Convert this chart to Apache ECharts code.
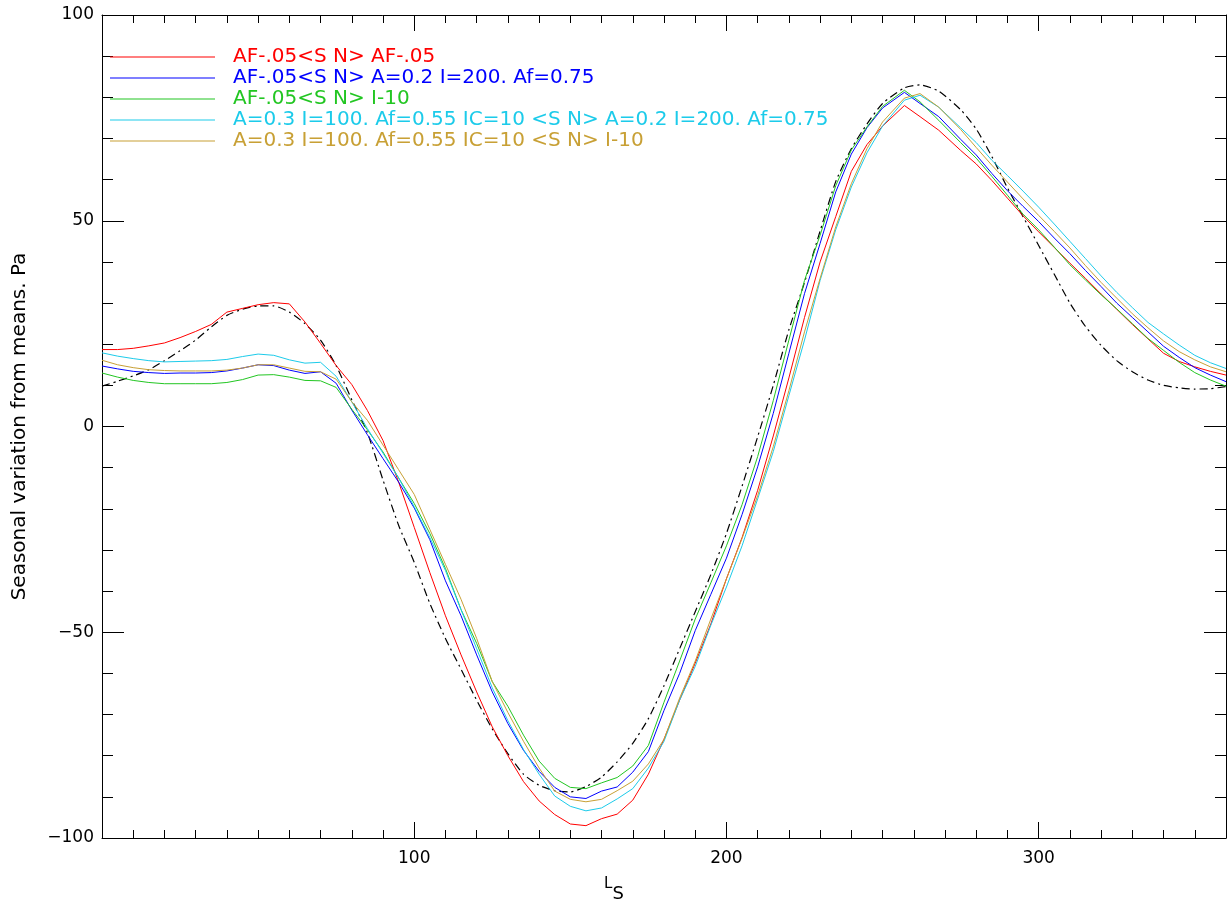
<!DOCTYPE html>
<html>
<head>
<meta charset="utf-8">
<title>Seasonal variation from means</title>
<script src="https://cdn.jsdelivr.net/npm/echarts@6/dist/echarts.min.js"></script>
<style>
    html, body { margin: 0; padding: 0; background: #fff; }
    #main { width: 1229px; height: 904px; }
</style>
</head>
<body>
<div id="main"></div>
<script>
// Ls (deg), shared by every curve
var ls = [0, 5, 10, 15, 20, 25, 30, 35, 40, 45, 50, 55, 60, 65, 70, 75, 80, 85, 90, 95,
    100, 105, 110, 115, 120, 125, 130, 135, 140, 145, 150, 155, 160, 165, 170, 175, 180, 185, 190, 195,
    200, 205, 210, 215, 220, 225, 230, 235, 240, 245, 250, 257, 262, 268, 275, 280, 285, 290, 295,
    300, 305, 310, 315, 320, 325, 330, 335, 340, 345, 350, 355, 360];

// 观测 (dash-dot)
var obs = [9.8, 11.0, 12.3, 13.8, 16.0, 18.4, 21.0, 24.2, 27.0, 28.5, 29.3, 29.3, 27.8, 25.0, 21.0, 14.8, 6.5, -1.5, -13, -24,
    -33, -43, -51.5, -59, -66.5, -73.5, -79.5, -84.5, -87.2, -88.5, -88.8, -87.5, -85.2, -81.5, -77, -71, -63, -54, -45, -36,
    -26, -14.5, -2.5, 10, 23.5, 35, 47.5, 59.5, 67.5, 73.5, 78.5, 82.3, 83, 81.5, 77, 72.3, 65.6, 58, 51,
    44, 37, 30, 24.3, 19.7, 16, 13.3, 11.3, 10, 9.4, 9.1, 9.2, 9.7];

// AF-.05<S N> AF-.05
var runRed = [18.7, 18.7, 19.0, 19.6, 20.3, 21.6, 23.1, 24.8, 27.8, 28.7, 29.6, 30.1, 29.8, 25.4, 20.2, 14.8, 10.2, 3.9, -3.4, -13.5,
    -24.5, -35.5, -46, -55.5, -64.5, -73, -80, -86.3, -91, -94.3, -96.6, -97, -95.3, -94.2, -90.8, -84.5, -76, -66.5, -57.5, -48,
    -37, -27, -15.5, -2.3, 11.8, 26.5, 40, 51, 62, 68.5, 73, 78, 75.3, 72, 67.1, 63.8, 59.8, 55.5, 51.2,
    47.3, 43.5, 39.7, 36, 32.2, 28.5, 24.8, 21.3, 17.8, 15.8, 14.5, 13.4, 12.5];

// AF-.05<S N> A=0.2 I=200. Af=0.75
var runBlue = [14.7, 14.0, 13.4, 13.1, 12.9, 13.0, 13.0, 13.1, 13.5, 14.2, 15.0, 14.8, 13.7, 12.9, 13.3, 10.5, 4.0, -2.0, -7.8, -13.5,
    -19.8, -27.5, -37.5, -46, -55.5, -64.5, -72.2, -78.7, -83.8, -87.7, -90, -90.4, -88.6, -87.6, -84, -79, -69, -60, -49.6, -40.8,
    -32, -21.4, -9.8, 3.2, 17.8, 32.3, 44.5, 57, 66.2, 72.6, 77.4, 81.2, 78.5, 75.3, 69.8, 66, 61.5, 57.3, 53.5,
    49.8, 45.8, 42, 37.9, 34, 30, 26.5, 23, 19.5, 16.8, 14.3, 12.5, 10.9];

// AF-.05<S N> I-10
var runGreen = [13.0, 12.0, 11.2, 10.7, 10.4, 10.4, 10.4, 10.4, 10.7, 11.4, 12.5, 12.6, 12.0, 11.2, 11.1, 9.5, 4.2, -0.8, -6.2, -12.5,
    -18.7, -26, -34.5, -44.5, -52.7, -62, -68, -75, -81.3, -85.5, -87.7, -88, -86.6, -85.3, -82.5, -77.5, -67, -57, -46.8, -38,
    -29, -19, -7.3, 6.3, 21, 35.5, 46.5, 58.5, 67.2, 72.8, 77.8, 81.7, 78.9, 74.4, 69, 65.2, 60.8, 56.2, 51.6,
    47.8, 43.6, 39.3, 35.6, 32, 28.6, 25, 21.4, 18.5, 15.6, 13.1, 11.3, 9.8];

// A=0.3 I=100. Af=0.55 IC=10 <S N> A=0.2 I=200. Af=0.75
var runCyan = [17.9, 17.1, 16.5, 16.0, 15.7, 15.8, 15.9, 16.0, 16.3, 17.0, 17.6, 17.3, 16.2, 15.4, 15.6, 12.2, 6.0, -0.5, -6.5, -12.5,
    -19.5, -27, -35, -44.5, -54, -63.5, -71.5, -78.5, -84.5, -89.8, -92.3, -93.4, -92.7, -90.5, -88, -83, -76.5, -66.5, -58.3, -48.3,
    -39, -29, -17.6, -6.1, 7.5, 21, 35.5, 47.8, 58.2, 66.5, 73, 79.3, 80.5, 77.6, 72.6, 69, 64.7, 61, 57.2,
    53.3, 49.2, 45, 40.8, 36.6, 32.6, 28.9, 25.3, 22.5, 19.8, 17.3, 15.5, 14.1];

// A=0.3 I=100. Af=0.55 IC=10 <S N> I-10
var runGold = [16.1, 15.0, 14.3, 13.8, 13.6, 13.5, 13.5, 13.5, 13.7, 14.2, 15.0, 15.0, 14.2, 13.4, 13.3, 11.5, 6.0, 1.5, -4.5, -10.5,
    -16.5, -25, -33.5, -42, -51.5, -62, -69.5, -76.5, -83, -88.6, -90.6, -91.2, -90.6, -88.5, -86.2, -82, -76, -66, -57, -46.8,
    -37, -27.2, -16.8, -4.9, 8.7, 23, 36, 48.5, 59, 67.5, 74, 79.8, 80.9, 77.6, 72.2, 67.8, 63.5, 59.4, 55.3,
    51.3, 47.4, 43.4, 39.1, 35, 31.2, 27.4, 24, 20.8, 18.2, 16.2, 14.5, 13.3];

var names = [
    'AF-.05<S N> AF-.05',
    'AF-.05<S N> A=0.2 I=200. Af=0.75',
    'AF-.05<S N> I-10',
    'A=0.3 I=100. Af=0.55 IC=10 <S N> A=0.2 I=200. Af=0.75',
    'A=0.3 I=100. Af=0.55 IC=10 <S N> I-10'
];
var colors = ['#ff0000', '#0000ff', '#22c622', '#1ccbea', '#c8a035'];
var runs = [runRed, runBlue, runGreen, runCyan, runGold];

var FONT = 'DejaVu Sans';

function pairs(vals) {
    var out = [];
    for (var i = 0; i < ls.length; i++) {
        out.push([ls[i], vals[i]]);
    }
    return out;
}

function minus(v) {
    return String(v).replace('-', '\u2212');
}

var myChart = echarts.init(document.getElementById('main'), null, { renderer: 'canvas' });

// 坐标轴: bottom/top get two axes each (major every 100, minor every 10)
function $x(o) {
    var a = {
        type: 'value', min: 0, max: 360, interval: o.interval, position: o.position,
        splitLine: { show: false },
        axisLine: { show: !!o.line, onZero: false, lineStyle: { color: '#000', width: 1 } },
        axisTick: { show: true, inside: true, length: o.tick, lineStyle: { color: '#000', width: 1 } },
        axisLabel: { show: false }
    };
    if (o.labels) {
        a.axisLabel = {
            show: true, margin: 12, color: '#000', fontFamily: FONT, fontSize: 17,
            formatter: function(v) { return (v === 100 || v === 200 || v === 300) ? String(v) : ''; }
        };
        a.name = '{l|L}{s|S}';
        a.nameLocation = 'middle';
        a.nameGap = 37;
        a.nameTextStyle = {
            color: '#000', fontFamily: FONT, padding: [0, 100, 0, 0],
            rich: {
                l: { fontSize: 15, fontFamily: FONT, color: '#000', padding: [0, 0, 10, 0] },
                s: { fontSize: 18, fontFamily: FONT, color: '#000', padding: [10, 0, 0, 0] }
            }
        };
    }
    return a;
}

function $y(pos, labels) {
    var a = {
        type: 'value', min: -100, max: 100, interval: 50, position: pos,
        splitLine: { show: false },
        axisLine: { show: true, onZero: false, lineStyle: { color: '#000', width: 1 } },
        axisTick: { show: true, inside: true, length: 22, lineStyle: { color: '#000', width: 1 } },
        minorTick: { show: true, splitNumber: 5, length: 11, lineStyle: { color: '#000', width: 1 } },
        axisLabel: { show: false }
    };
    if (labels) {
        a.axisLabel = { show: true, margin: 8, color: '#000', fontFamily: FONT, fontSize: 17, formatter: minus };
        a.name = 'Seasonal variation from means. Pa';
        a.nameLocation = 'middle';
        a.nameGap = 72;
        a.nameTextStyle = { color: '#000', fontFamily: FONT, fontSize: 20 };
    }
    return a;
}

var xAxes = [
    $x({ position: 'bottom', interval: 100, tick: 16, labels: true, line: true }),
    $x({ position: 'bottom', interval: 10, tick: 8 }),
    $x({ position: 'top', interval: 100, tick: 16, line: true }),
    $x({ position: 'top', interval: 10, tick: 8 })
];

// 系列
var series = [{
    name: 'obs',
    type: 'line',
    data: pairs(obs),
    xAxisIndex: 0,
    yAxisIndex: 0,
    symbol: 'none',
    smooth: 0.2,
    lineStyle: { color: '#000', width: 1.2, type: [8, 4, 2, 4] },
    z: 2
}];
for (var i = 0; i < runs.length; i++) {
    series.push({
        name: names[i],
        type: 'line',
        data: pairs(runs[i]),
        xAxisIndex: 0,
        yAxisIndex: 0,
        symbol: 'none',
        itemStyle: { color: colors[i] },
        lineStyle: { color: colors[i], width: 1 },
        z: 3 + i
    });
}

var legendData = [];
for (var j = 0; j < names.length; j++) {
    legendData.push({ name: names[j], icon: 'rect', itemStyle: { color: colors[j] }, textStyle: { color: colors[j] } });
}

var option = {
    animation: false,
    backgroundColor: '#fff',
    grid: { left: 102, top: 15, width: 1124, height: 823, containLabel: false, outerBoundsMode: 'none' },
    legend: {
        data: legendData,
        orient: 'vertical',
        left: 110,
        top: 47,
        padding: 0,
        itemWidth: 105,
        itemHeight: 1,
        itemGap: 1,
        selectedMode: false,
        textStyle: { fontFamily: FONT, fontSize: 20, lineHeight: 20, padding: [0, 0, 0, 13] }
    },
    xAxis: xAxes,
    yAxis: [$y('left', true), $y('right', false)],
    series: series
};

// 使用刚指定的配置项和数据显示图表。
myChart.setOption(option);
</script>
</body>
</html>
